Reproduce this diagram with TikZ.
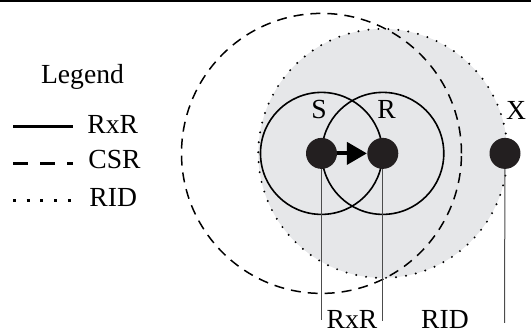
\documentclass[tikz,border=0pt]{standalone}
\usepackage{fontspec}
\setmainfont{Liberation Serif}
\usepackage{xcolor}
\usepackage{tikz}
\usetikzlibrary{arrows.meta}
\definecolor{ridgray}{RGB}{230,231,233}
\definecolor{nodeblack}{RGB}{35,31,32}

\begin{document}
\begin{tikzpicture}[x=0.5pt,y=-0.5pt,
    font=\fontsize{13.8}{16}\selectfont,
    station/.style={circle,fill=nodeblack,inner sep=0pt,minimum size=15.5pt},
    rxrline/.style={line width=0.8pt},
    csrline/.style={line width=0.75pt,dash pattern=on 5pt off 3.5pt},
    ridline/.style={line width=1.1pt,line cap=round,dash pattern=on 0pt off 5pt},
    dimline/.style={line width=0.5pt,black!70}]
  \useasboundingbox (0,0) rectangle (531,335);
  \fill (0,0) rectangle (531,2);
      \coordinate (Sc) at (321.5,153.4);
      \coordinate (Rc) at (382.8,153.4);
      \coordinate (Xc) at (505,153.4);
    % ranges
    \fill[ridgray] (Rc) circle[radius=62.25pt];
    \draw[ridline] (Rc) circle[radius=62.25pt];
    \draw[csrline] (Sc) circle[radius=70pt];
    \draw[rxrline] (Sc) circle[radius=30.5pt];
    \draw[rxrline] (Rc) circle[radius=30.5pt];
    % distance marks
      \coordinate (Sb) at (321.5,320);
      \coordinate (Rb) at (382.8,321);
      \coordinate (Xb) at (504.5,323);
      \draw[dimline] (Sc) -- (Sb);
      \draw[dimline] (Rc) -- (Rb);
      \draw[dimline] (Xc) -- (Xb);
    % stations
      \node[station] (S) at (Sc) {};
      \node[station] (R) at (Rc) {};
      \node[station] (X) at (Xc) {};
      \draw[line width=2pt,-{Triangle[length=10pt,width=11pt]}] (S) -- (R);
     \node[anchor=base] (Slabel) at (319,119) {S};
     \node[anchor=base] (Rlabel) at (386.7,119) {R};
     \node[anchor=base] (Xlabel) at (516,120) {X};
     \node[anchor=base] (rxrdist) at (352,329) {RxR};
     \node[anchor=base] (riddist) at (445,329) {RID};
    % legend
     \node[anchor=base] (legend) at (82.5,83.3) {Legend};
      \coordinate (la1) at (13,126.5);
      \coordinate (lb1) at (73,126.5);
      \coordinate (la2) at (13,163.5);
      \coordinate (lb2) at (73,163.5);
      \coordinate (la3) at (13,200.5);
      \coordinate (lb3) at (73,200.5);
      \draw[line width=1.5pt] (la1) -- (lb1);
      \draw[line width=1.5pt,dash pattern=on 7.5pt off 6pt] (la2) -- (lb2);
      \draw[line width=1.5pt,dash pattern=on 1.5pt off 5.35pt] (la3) -- (lb3);
     \node[anchor=base west,inner sep=0pt] (lrxr) at (87,133.3) {RxR};
     \node[anchor=base west,inner sep=0pt] (lcsr) at (88,168.3) {CSR};
     \node[anchor=base west,inner sep=0pt] (lrid) at (89,206.7) {RID};
\end{tikzpicture}
\end{document}
